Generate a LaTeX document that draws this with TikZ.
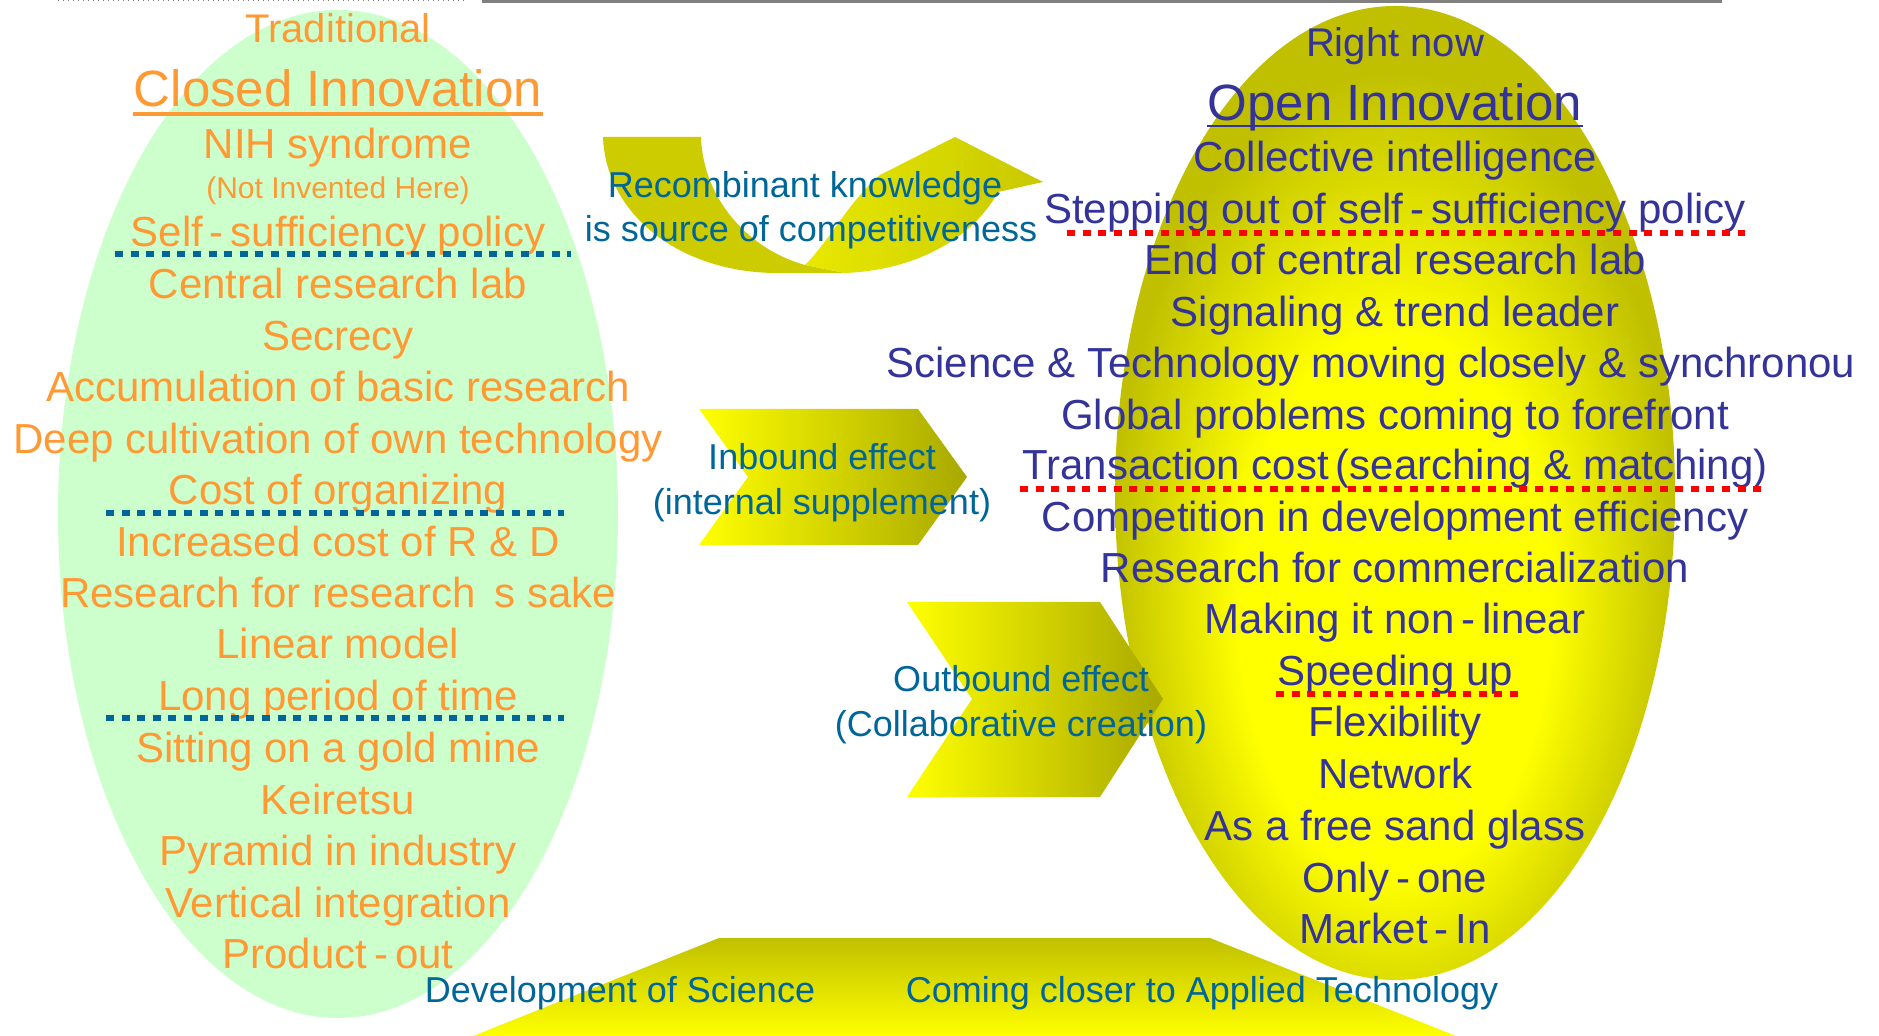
\documentclass[tikz,border=0pt]{standalone}
\usepackage{fontspec}
\setmainfont{Liberation Sans}

\definecolor{closedgreen}{RGB}{204,255,204}
\definecolor{closedorange}{RGB}{255,153,51}
\definecolor{openblue}{RGB}{51,51,153}
\definecolor{midblue}{RGB}{0,102,153}
\definecolor{olivedark}{RGB}{192,192,0}
\definecolor{sunyellow}{RGB}{255,255,0}
\definecolor{chevdark}{RGB}{168,168,0}
\definecolor{armback}{RGB}{204,204,0}
\definecolor{armfront}{RGB}{232,232,0}
\definecolor{armhead}{RGB}{200,200,0}

\pgfdeclareradialshading{openglow}{\pgfpoint{0bp}{-8bp}}{color(0bp)=(sunyellow); color(14bp)=(sunyellow); color(25.5bp)=(olivedark); color(50bp)=(olivedark)}

\begin{document}
\begin{tikzpicture}[x=0.5pt,y=-0.5pt,
  closedtxt/.style={text=closedorange,font=\fontsize{21}{25}\selectfont,anchor=base,inner sep=0pt},
  opentxt/.style={text=openblue,font=\fontsize{21}{25}\selectfont,anchor=base,inner sep=0pt},
  midtxt/.style={text=midblue,font=\fontsize{18}{22}\selectfont,anchor=base,inner sep=0pt},
  bluedots/.style={midblue,line width=3.3pt,dash pattern=on 4pt off 3.8pt},
  reddots/.style={red,line width=3.3pt,dash pattern=on 4pt off 3.8pt}]
\useasboundingbox (0,0) rectangle (1879,1036);

% top rules
\draw[gray,dotted,line width=0.5pt] (58,1) -- (467,1);
\draw[gray,line width=1.6pt] (482,1.5) -- (1722,1.5);

% bottom band
\shade[top color=olivedark,bottom color=sunyellow] (719,938) -- (1210,938) -- (1456,1036) -- (473,1036) -- cycle;

% the two ellipses
\fill[closedgreen] (338,514) ellipse [x radius=280,y radius=504];
\shade[shading=openglow] (1395,493) ellipse [x radius=280,y radius=487];

% recombinant arrow
\fill[armback] (603,137) -- (701,137) .. controls (703,200) and (750,250) .. (805,265)
  -- (845,273) -- (775,273) .. controls (680,272) and (606,215) .. (603,137) -- cycle;
\shade[left color=armfront,right color=armhead] (805,265) .. controls (830,240) and (850,200) .. (880,175)
  -- (955,137) -- (1043,182) -- (998,192) .. controls (975,235) and (920,270) .. (845,273) -- cycle;

% chevrons
\shade[left color=sunyellow,right color=chevdark] (699,409) -- (918,409) -- (967,477) -- (918,545) -- (699,545) -- (748,477) -- cycle;
\shade[left color=sunyellow,right color=chevdark] (907,602) -- (1100,602) -- (1163,699) -- (1100,797) -- (907,797) -- (972,699) -- cycle;

% middle labels
\node[midtxt] (rk1) at (805,198) {Recombinant knowledge};
\node[midtxt] (rk2) at (811,242) {is source of competitiveness};
\node[midtxt] (in1) at (822,470) {Inbound effect};
\node[midtxt] (in2) at (822,515) {(internal supplement)};
\node[midtxt] (out1) at (1021,692) {Outbound effect};
\node[midtxt] (out2) at (1021,737) {(Collaborative creation)};
\node[midtxt] (dev) at (620,1002) {Development of Science};
\node[midtxt] (app) at (1202,1002) {Coming closer to Applied Technology};

% closed side
\node[closedtxt,font=\fontsize{20}{24}\selectfont] (trad) at (338,43) {Traditional};
\node[closedtxt,font=\fontsize{25.5}{30}\selectfont] (ci) at (338,107) {Closed Innovation};
\draw[closedorange,line width=1.6pt] ([yshift=-3.5pt]ci.base west) -- ([yshift=-3.5pt]ci.base east);
\node[closedtxt] (c1) at (338,159) {NIH syndrome};
\node[closedtxt,font=\fontsize{15}{18}\selectfont] (c2) at (338,199) {(Not Invented Here)};
\node[closedtxt] (c3) at (338,247) {Self\,-\,sufficiency policy};
\node[closedtxt] (c4) at (338,299) {Central research lab};
\node[closedtxt] (c5) at (338,350.5) {Secrecy};
\node[closedtxt] (c6) at (338,402) {Accumulation of basic research};
\node[closedtxt] (c7) at (338,453.5) {Deep cultivation of own technology};
\node[closedtxt] (c8) at (338,505) {Cost of organizing};
\node[closedtxt] (c9) at (338,557) {Increased cost of R \& D};
\node[closedtxt] (c10) at (338,608) {Research for research\hspace{0.45em}s sake};
\node[closedtxt] (c11) at (338,659) {Linear model};
\node[closedtxt] (c12) at (338,711) {Long period of time};
\node[closedtxt] (c13) at (338,762.5) {Sitting on a gold mine};
\node[closedtxt] (c14) at (338,814) {Keiretsu};
\node[closedtxt] (c15) at (338,865.5) {Pyramid in industry};
\node[closedtxt] (c16) at (338,917) {Vertical integration};
\node[closedtxt] (c17) at (338,968.5) {Product\,-\,out};

\draw[bluedots] (115,254) -- (571,254);
\draw[bluedots] (106,513) -- (564,513);
\draw[bluedots] (106,718) -- (564,718);

% open side
\node[opentxt,font=\fontsize{20}{24}\selectfont] (now) at (1395,57) {Right now};
\node[opentxt,font=\fontsize{25.5}{30}\selectfont] (oi) at (1395,121) {Open Innovation};
\draw[openblue,line width=1.3pt] ([yshift=-2.5pt]oi.base west) -- ([yshift=-2.5pt]oi.base east);
\node[opentxt] (o1) at (1395,172) {Collective intelligence};
\node[opentxt] (o2) at (1395,224) {Stepping out of self\,-\,sufficiency policy};
\node[opentxt] (o3) at (1395,275) {End of central research lab};
\node[opentxt] (o4) at (1395,326.5) {Signaling \& trend leader};
\node[opentxt,anchor=base west] (o5) at (886,378) {Science \& Technology moving closely \& synchronou};
\node[opentxt] (o6) at (1395,429.5) {Global problems coming to forefront};
\node[opentxt] (o7) at (1395,480) {Transaction cost\,(searching \& matching)};
\node[opentxt] (o8) at (1395,532) {Competition in development efficiency};
\node[opentxt] (o9) at (1395,583) {Research for commercialization};
\node[opentxt] (o10) at (1395,634) {Making it non\,-\,linear};
\node[opentxt] (o11) at (1395,686) {Speeding up};
\node[opentxt] (o12) at (1395,737) {Flexibility};
\node[opentxt] (o13) at (1395,789) {Network};
\node[opentxt] (o14) at (1395,840) {As a free sand glass};
\node[opentxt] (o15) at (1395,892) {Only\,-\,one};
\node[opentxt] (o16) at (1395,943) {Market\,-\,In};

\draw[reddots] (1067,233) -- (1745,233);
\draw[reddots] (1020,489) -- (1762,489);
\draw[reddots] (1276,694) -- (1524,694);
\end{tikzpicture}
\end{document}
